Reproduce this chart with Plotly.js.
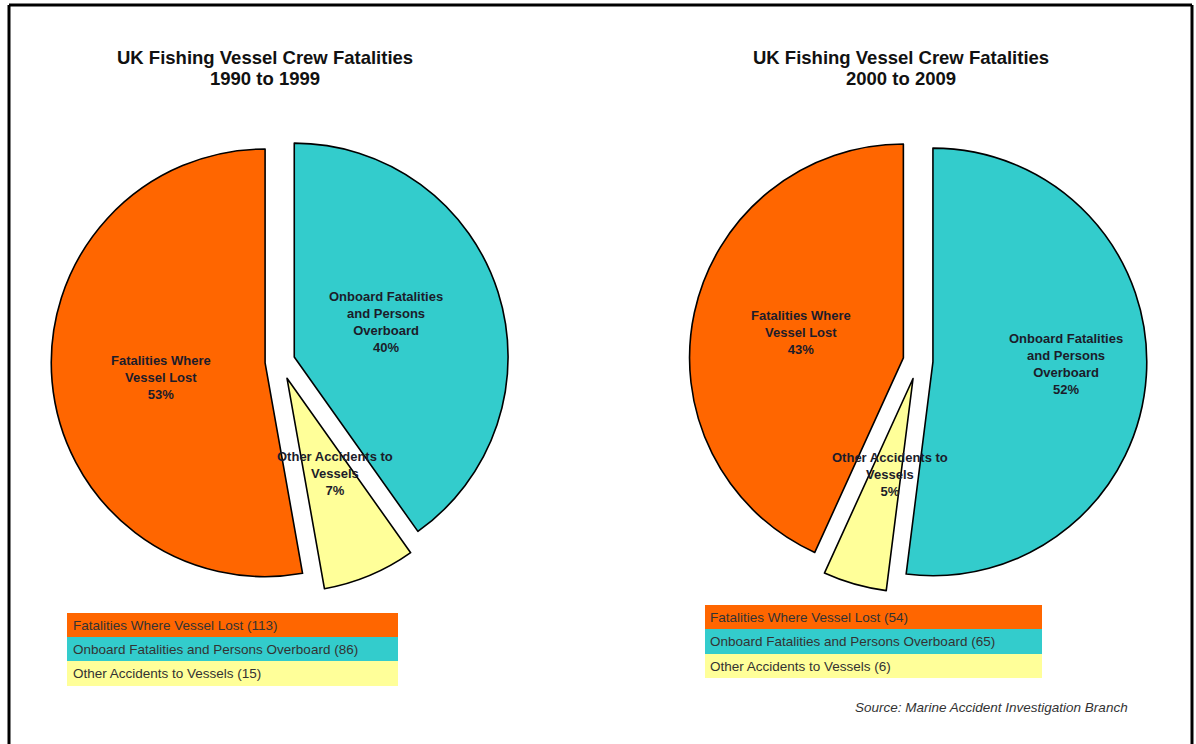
<!DOCTYPE html>
<html>
<head>
<meta charset="utf-8">
<script src="https://cdn.plot.ly/plotly-3.0.1.min.js"></script>
<style>html,body{margin:0;padding:0;background:#fff;}#chart{width:1196px;height:744px;}</style>
</head>
<body>
<div id="chart"></div>
<script>
// Data
const categories = ['Fatalities Where Vessel Lost', 'Onboard Fatalities and Persons Overboard', 'Other Accidents to Vessels'];
const sliceLabels = ['Fatalities Where<br>Vessel Lost', 'Onboard Fatalities<br>and Persons<br>Overboard', 'Other Accidents to<br>Vessels'];
const counts1990s = [113, 86, 15];
const counts2000s = [54, 65, 6];
const percents1990s = [53, 40, 7];
const percents2000s = [43, 52, 5];
const titleMain = 'UK Fishing Vessel Crew Fatalities';
const titlePeriods = ['1990 to 1999', '2000 to 2009'];
const sourceText = 'Source: Marine Accident Investigation Branch';

// Styling
const colors = ['#FF6600', '#33CCCC', '#FFFF99'];
const pulls = [0.07, 0.07, 0.085];
const drawOrder = [1, 2, 0]; // clockwise from 12 o'clock
const W = 1196, H = 744;
const px = x => x / W;
const py = y => 1 - y / H;
const FONT = 'Liberation Sans, Arial, sans-serif';

function pieTrace(values, domain) {
  return {
    type: 'pie',
    labels: drawOrder.map(i => categories[i]),
    values: drawOrder.map(i => values[i]),
    marker: {colors: drawOrder.map(i => colors[i]), line: {color: '#000', width: 1.6}},
    pull: drawOrder.map(i => pulls[i]),
    sort: false,
    direction: 'clockwise',
    rotation: 0,
    textinfo: 'none',
    hoverinfo: 'label+value+percent',
    domain: domain,
    showlegend: false
  };
}

const traces = [
  pieTrace(counts1990s, {x: [px(48), px(512)], y: [py(593.5), py(129.5)]}),
  pieTrace(counts2000s, {x: [px(686), px(1150)], y: [py(593), py(129)]})
];

const annotations = [];
const shapes = [];
const labelFont = {family: FONT, size: 13, color: '#1c1c2a'};

// Titles
[265, 901].forEach((x, c) => {
  [[57, titleMain], [78, titlePeriods[c]]].forEach(([y, t]) => {
    annotations.push({xref: 'paper', yref: 'paper', x: px(x), y: py(y), text: '<b>' + t + '</b>',
      showarrow: false, xanchor: 'center', yanchor: 'middle',
      font: {family: FONT, size: 18.5, color: '#111'}});
  });
});

// Slice labels
const labelPos = [
  [[161, 377], [386, 322], [335, 473]],
  [[801, 332], [1066, 364], [890, 474]]
];
const pcts = [percents1990s, percents2000s];
labelPos.forEach((chart, c) => {
  chart.forEach(([x, y], i) => {
    annotations.push({xref: 'paper', yref: 'paper', x: px(x), y: py(y),
      text: '<b>' + sliceLabels[i] + '<br>' + pcts[c][i] + '%</b>',
      showarrow: false, xanchor: 'center', yanchor: 'middle', align: 'center', font: labelFont});
  });
});

// Legend tables
const legends = [
  {x0: 67, x1: 398, rows: [[613, 637], [637, 661], [661, 686]], counts: counts1990s, tx: 71},
  {x0: 705, x1: 1042, rows: [[605, 629], [629, 654], [654, 678]], counts: counts2000s, tx: 708}
];
legends.forEach(lg => {
  lg.rows.forEach(([y0, y1], i) => {
    shapes.push({type: 'rect', xref: 'paper', yref: 'paper', x0: px(lg.x0), x1: px(lg.x1),
      y0: py(y1), y1: py(y0), fillcolor: colors[i], line: {width: 0}, layer: 'below'});
    annotations.push({xref: 'paper', yref: 'paper', x: px(lg.tx), y: py((y0 + y1) / 2),
      text: categories[i] + ' (' + lg.counts[i] + ')', showarrow: false,
      xanchor: 'left', yanchor: 'middle',
      font: {family: FONT, size: 13.5, color: '#333'}});
  });
});

// Source
annotations.push({xref: 'paper', yref: 'paper', x: px(1130), y: py(707),
  text: '<i>' + sourceText + '</i>', showarrow: false, xanchor: 'right', yanchor: 'middle',
  font: {family: FONT, size: 13.5, color: '#333'}});

// Frame
const frameLine = {color: '#000', width: 3};
shapes.push({type: 'line', xref: 'paper', yref: 'paper', x0: px(9), x1: px(1192), y0: py(5), y1: py(5), line: frameLine});
shapes.push({type: 'line', xref: 'paper', yref: 'paper', x0: px(9), x1: px(9), y0: py(5), y1: 0, line: frameLine});
shapes.push({type: 'line', xref: 'paper', yref: 'paper', x0: px(1192), x1: px(1192), y0: py(5), y1: 0, line: frameLine});

const layout = {
  width: W, height: H,
  margin: {l: 0, r: 0, t: 0, b: 0},
  paper_bgcolor: '#fff',
  showlegend: false,
  annotations: annotations,
  shapes: shapes
};

Plotly.newPlot('chart', traces, layout, {displayModeBar: false, staticPlot: true});
</script>
</body>
</html>
